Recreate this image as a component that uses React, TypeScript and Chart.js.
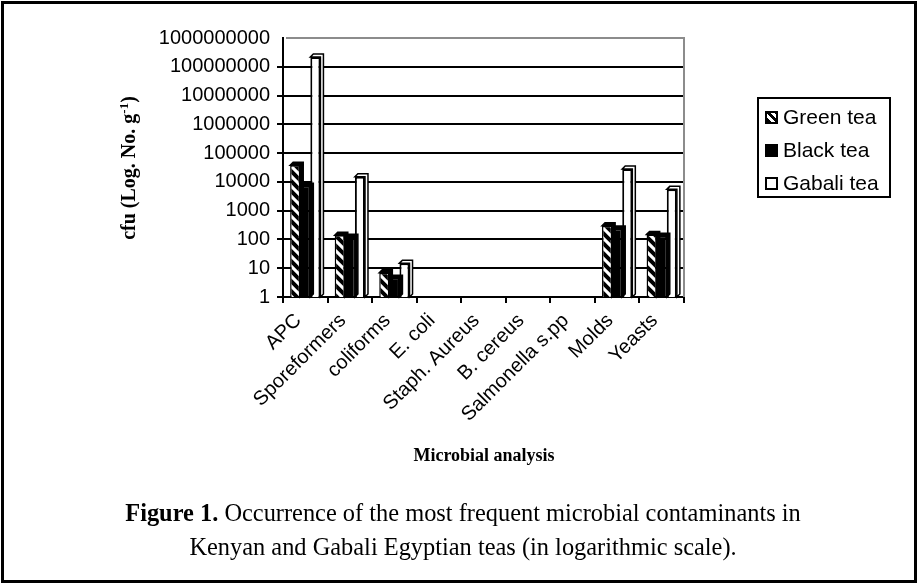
import React, { useEffect, useRef } from "react";
import { Chart, registerables } from "chart.js";

Chart.register(...registerables);

const categories = [
  "APC",
  "Sporeformers",
  "coliforms",
  "E. coli",
  "Staph. Aureus",
  "B. cereus",
  "Salmonella s.pp",
  "Molds",
  "Yeasts",
];
const greenTea = [38000, 140, 7, 1, 1, 1, 1, 300, 150];
const blackTea = [7000, 120, 4.5, 1, 1, 1, 1, 230, 130];
const gabaliTea = [220000000, 15000, 15, 1, 1, 1, 1, 28000, 5500];
const yTicks = [1, 10, 100, 1000, 10000, 100000, 1000000, 10000000, 100000000, 1000000000];
const seriesNames = ["Green tea", "Black tea", "Gabali tea"];

function makeStripe(): CanvasPattern | string {
  const c = document.createElement("canvas");
  c.width = 10;
  c.height = 10;
  const g = c.getContext("2d");
  if (!g) return "#888";
  g.fillStyle = "#fff";
  g.fillRect(0, 0, 10, 10);
  g.strokeStyle = "#000";
  g.lineWidth = 4;
  g.beginPath();
  g.moveTo(-5, -5);
  g.lineTo(15, 15);
  g.moveTo(-5, 5);
  g.lineTo(5, 15);
  g.moveTo(5, -5);
  g.lineTo(15, 5);
  g.stroke();
  return g.createPattern(c, "repeat") || "#888";
}

const framePlugin = {
  id: "frame3d",
  beforeDatasetsDraw(chart: any) {
    const { ctx, chartArea } = chart;
    ctx.save();
    ctx.strokeStyle = "#8c8c8c";
    ctx.lineWidth = 2;
    ctx.beginPath();
    ctx.moveTo(chartArea.left + 3, chartArea.top);
    ctx.lineTo(chartArea.right, chartArea.top);
    ctx.lineTo(chartArea.right, chartArea.bottom);
    ctx.stroke();
    ctx.restore();
  },
  afterDatasetsDraw(chart: any) {
    const { ctx } = chart;
    const d = 3;
    ctx.save();
    chart.data.datasets.forEach((ds: any, i: number) => {
      const meta = chart.getDatasetMeta(i);
      meta.data.forEach((bar: any) => {
        const { x, y, base, width } = bar.getProps(["x", "y", "base", "width"], true);
        if (base - y < 2) return;
        const l = x - width / 2;
        const r = x + width / 2;
        ctx.beginPath();
        ctx.moveTo(l, y);
        ctx.lineTo(l + d, y - d);
        ctx.lineTo(r + d, y - d);
        ctx.lineTo(r + d, base - d);
        ctx.lineTo(r, base);
        ctx.lineTo(r, y);
        ctx.closePath();
        ctx.fillStyle = i === 2 ? "#fff" : "#000";
        ctx.fill();
        ctx.strokeStyle = "#000";
        ctx.lineWidth = 1.5;
        ctx.stroke();
      });
    });
    ctx.restore();
  },
};

const serif = "'Times New Roman', 'Liberation Serif', serif";
const sans = "Arial, 'Liberation Sans', sans-serif";

export default function App() {
  const ref = useRef<HTMLCanvasElement | null>(null);

  useEffect(() => {
    if (!ref.current) return;
    const stripe = makeStripe();
    const chart = new Chart(ref.current, {
      type: "bar",
      data: {
        labels: categories,
        datasets: [
          {
            label: seriesNames[0],
            data: greenTea,
            backgroundColor: stripe as any,
            borderColor: "#000",
            borderWidth: 1.5,
          },
          {
            label: seriesNames[1],
            data: blackTea,
            backgroundColor: "#000",
            borderColor: "#000",
            borderWidth: 1.5,
          },
          {
            label: seriesNames[2],
            data: gabaliTea,
            backgroundColor: "#fff",
            borderColor: "#000",
            borderWidth: 2,
          },
        ],
      },
      options: {
        animation: false,
        responsive: false,
        devicePixelRatio: 1,
        layout: { padding: { left: 150, top: 38, right: 234, bottom: 0 } },
        datasets: { bar: { categoryPercentage: 0.68, barPercentage: 1 } },
        plugins: {
          legend: { display: false },
          tooltip: { enabled: false },
        },
        scales: {
          x: {
            afterFit: (scale: any) => {
              scale.height = 584 - 297;
            },
            grid: {
              drawOnChartArea: false,
              drawTicks: true,
              tickLength: 6,
              color: "#000",
              lineWidth: 2,
              offset: true,
            },
            border: { color: "#000", width: 2 },
            ticks: {
              autoSkip: false,
              maxRotation: 45,
              minRotation: 45,
              padding: 6,
              labelOffset: -7,
              color: "#000",
              font: { family: sans, size: 20 },
            },
          },
          y: {
            type: "logarithmic",
            min: 1,
            max: 1000000000,
            afterFit: (scale: any) => {
              scale.width = 283 - 150;
            },
            afterBuildTicks: (scale: any) => {
              scale.ticks = yTicks.map((v) => ({ value: v }));
            },
            grid: {
              color: (c: any) => (c.tick && c.tick.value === 1000000000 ? "rgba(0,0,0,0)" : "#000"),
              lineWidth: 2,
              tickLength: 6,
              drawTicks: true,
            },
            border: { color: "#000", width: 2 },
            ticks: {
              color: "#000",
              padding: 7,
              font: { family: sans, size: 20 },
              callback: (v: any) => Number(v).toFixed(0),
            },
          },
        },
      },
      plugins: [framePlugin],
    });
    return () => chart.destroy();
  }, []);

  const legendIcon = (kind: number): React.CSSProperties => {
    const base: React.CSSProperties = {
      display: "inline-block",
      width: 13,
      height: 13,
      boxSizing: "border-box",
      border: "2px solid #000",
      marginRight: 5,
      verticalAlign: "middle",
      position: "relative",
      top: -1,
    };
    if (kind === 0)
      return {
        ...base,
        background:
          "repeating-linear-gradient(45deg, #000 0px, #000 3px, #fff 3px, #fff 6px)",
      };
    if (kind === 1) return { ...base, background: "#000" };
    return { ...base, background: "#fff" };
  };

  return (
    <div
      style={{
        position: "fixed",
        left: 0,
        top: 0,
        width: 918,
        height: 584,
        background: "#fff",
        overflow: "hidden",
      }}
    >
      <canvas
        ref={ref}
        width={918}
        height={584}
        style={{ position: "absolute", left: 0, top: 0, width: 918, height: 584 }}
      />
      <div
        style={{
          position: "absolute",
          left: 1,
          top: 1,
          width: 916,
          height: 582,
          boxSizing: "border-box",
          border: "3px solid #000",
          pointerEvents: "none",
        }}
      />
      <div
        style={{
          position: "absolute",
          left: 128,
          top: 168,
          transform: "translate(-50%, -50%) rotate(-90deg)",
          whiteSpace: "nowrap",
          fontFamily: serif,
          fontWeight: "bold",
          fontSize: 20,
        }}
      >
        cfu (Log. No. g<sup style={{ fontSize: 13 }}>-1</sup>)
      </div>
      <div
        style={{
          position: "absolute",
          left: 757,
          top: 97,
          width: 134,
          height: 101,
          boxSizing: "border-box",
          border: "2px solid #000",
          fontFamily: sans,
          fontSize: 21,
          paddingLeft: 6,
          paddingTop: 1,
          lineHeight: "33px",
        }}
      >
        {seriesNames.map((n, i) => (
          <div key={n} style={{ whiteSpace: "nowrap" }}>
            <span style={legendIcon(i)} />
            {n}
          </div>
        ))}
      </div>
      <div
        style={{
          position: "absolute",
          left: 384,
          top: 445,
          width: 200,
          textAlign: "center",
          fontFamily: serif,
          fontWeight: "bold",
          fontSize: 18,
        }}
      >
        Microbial analysis
      </div>
      <div
        style={{
          position: "absolute",
          left: 0,
          top: 496,
          width: 926,
          textAlign: "center",
          fontFamily: serif,
          fontSize: 24.4,
          lineHeight: "34px",
        }}
      >
        <b>Figure 1.</b> Occurrence of the most frequent microbial contaminants in
        <br />
        Kenyan and Gabali Egyptian teas (in logarithmic scale).
      </div>
    </div>
  );
}
